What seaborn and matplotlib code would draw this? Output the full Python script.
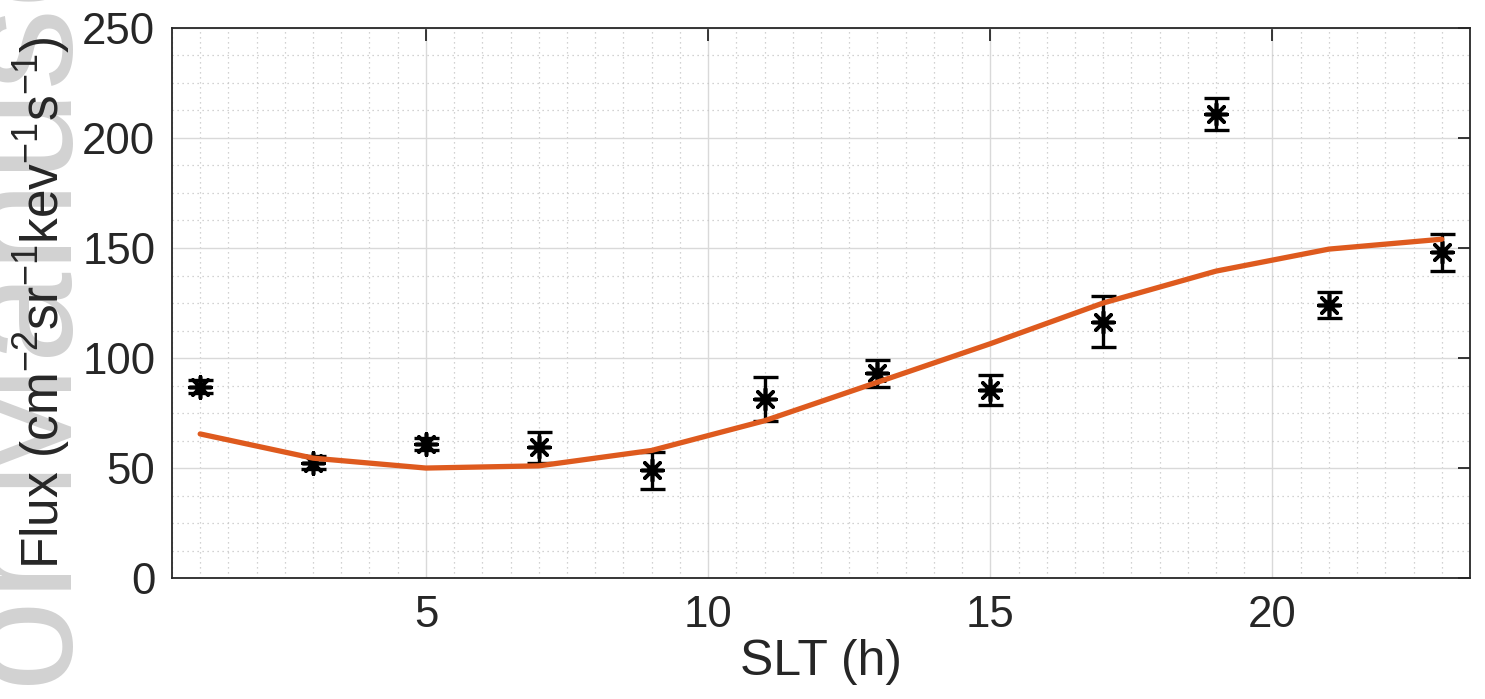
import matplotlib
matplotlib.use("Agg")
import matplotlib.pyplot as plt
import seaborn as sns
import numpy as np
import pandas as pd
from matplotlib.ticker import MultipleLocator

slt = [1, 3, 5, 7, 9, 11, 13, 15, 17, 19, 21, 23]
flux = [87, 52.5, 61, 59.5, 49, 81.5, 93, 85.5, 116.5, 211, 124, 148]
flux_err = [3, 3, 2.7, 7, 8.3, 10, 6, 7, 11.7, 7.3, 6, 8.5]
model = [65.5, 54.5, 50, 51, 58, 71.5, 89, 106.5, 125, 139.5, 149.5, 154]

xticks = [5, 10, 15, 20]
yticks = [0, 50, 100, 150, 200, 250]

sns.set_theme(style="white")
plt.rcParams['font.family'] = ['Liberation Sans', 'DejaVu Sans']
plt.rcParams['mathtext.default'] = 'regular'

fig = plt.figure(figsize=(14.85, 6.99), dpi=100)
ax = fig.add_axes([0.1158, 0.173, 0.8741, 0.787])

# watermark (behind everything)
fig.text(72 / 1485, -0.47, "Author Manuscript", rotation=90, rotation_mode='anchor',
         ha='left', va='baseline', fontsize=118, color='#d2d2d2', zorder=-5)

df = pd.DataFrame({"SLT": slt, "flux": flux, "err": flux_err, "model": model})

ax.errorbar(df["SLT"], df["flux"], yerr=df["err"], fmt='none', ecolor='black',
            elinewidth=2.4, capsize=9, capthick=2.4, zorder=3)
sns.scatterplot(data=df, x="SLT", y="flux", marker=(8, 2, 0), s=240, color='black',
                linewidth=2.6, edgecolor='black', ax=ax, zorder=4, legend=False)
sns.lineplot(data=df, x="SLT", y="model", color='#DE5A1E', linewidth=3.8, ax=ax,
             zorder=5, legend=False)

ax.set_xlim(0.5, 23.5)
ax.set_ylim(0, 250)
ax.set_xticks(xticks)
ax.set_yticks(yticks)
ax.xaxis.set_minor_locator(MultipleLocator(0.5))
ax.yaxis.set_minor_locator(MultipleLocator(12.5))

ax.grid(which='major', color='#d9d9d9', linewidth=1.0, linestyle='-')
ax.grid(which='minor', color='#c4c4c4', linewidth=0.9, linestyle=(0, (1, 3)))
ax.set_axisbelow(True)

ax.tick_params(which='major', direction='in', length=9, width=1.3, top=True, right=True,
               labelsize=31.5, colors='#262626', pad=12)
ax.tick_params(which='minor', length=0)
for s in ax.spines.values():
    s.set_visible(True)
    s.set_color('#262626')
    s.set_linewidth(1.3)

ax.set_xlabel("SLT (h)", fontsize=36, color='#262626', labelpad=2)
ax.set_ylabel(r"Flux (cm$^{-2}$sr$^{-1}$kev$^{-1}$s$^{-1}$)", fontsize=37,
              color='#262626', labelpad=7)

fig.savefig("out.png", dpi=100)
